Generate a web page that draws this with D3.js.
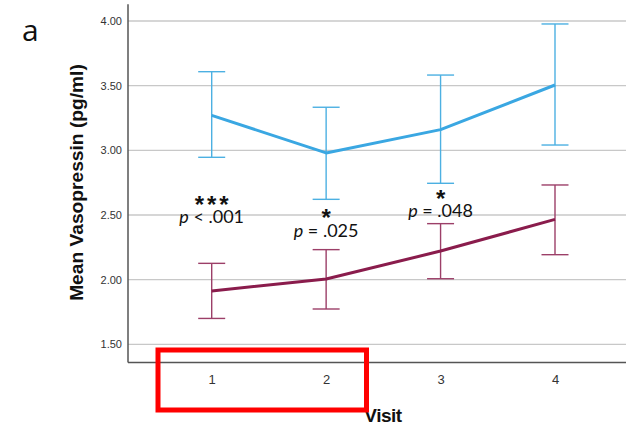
<!DOCTYPE html>
<html><head><meta charset="utf-8">
<script src="https://cdn.jsdelivr.net/npm/d3@7"></script>
<style>body{margin:0;background:#fff}svg{display:block}</style>
</head><body>
<svg id="c" width="626" height="425"></svg>
<script>
const visits = [1, 2, 3, 4];
const yTicks = [1.5, 2.0, 2.5, 3.0, 3.5, 4.0];
const blueMean = [3.27, 2.98, 3.16, 3.505];
const blueLow  = [2.946, 2.621, 2.745, 3.041];
const blueHigh = [3.608, 3.333, 3.582, 3.977];
const redMean = [1.912, 2.005, 2.221, 2.466];
const redLow  = [1.70, 1.773, 2.007, 2.193];
const redHigh = [2.126, 2.232, 2.433, 2.732];
const annVisits = [1, 2, 3];
const annStars = ["***", "*", "*"];
const annTexts = ["< .001", "= .025", "= .048"];

const svg = d3.select("#c");
const x = d3.scalePoint().domain(visits).range([211.7, 555]);
const y = d3.scaleLinear().domain([1.5, 4.0]).range([344.3, 21]);
const yTop = 4.13, yBot = 1.36;
const left = 128, right = 626;

// gridlines
svg.append("g").selectAll("line").data(yTicks).join("line")
  .attr("x1", left).attr("x2", right)
  .attr("y1", d => y(d)).attr("y2", d => y(d))
  .attr("stroke", "#c8c8c8").attr("stroke-width", 1.3);

// y axis
const yAxis = d3.axisLeft(y).tickValues(yTicks).tickFormat(d3.format(".2f")).tickSize(0).tickPadding(6);
const gy = svg.append("g").attr("transform", `translate(${left},0)`).call(yAxis);
gy.select(".domain").remove();
gy.selectAll("text").attr("font-family", "Liberation Sans, Arial, sans-serif").attr("font-size", 11).attr("fill", "#333");
svg.append("line").attr("x1", left).attr("x2", left).attr("y1", y(yTop)).attr("y2", y(yBot))
  .attr("stroke", "#555").attr("stroke-width", 1.5);

// x axis
const xAxis = d3.axisBottom(x).tickSize(0).tickPadding(12);
const gx = svg.append("g").attr("transform", `translate(0,${y(yBot)})`).call(xAxis);
gx.select(".domain").remove();
gx.selectAll("text").attr("font-family", "Liberation Sans, Arial, sans-serif").attr("font-size", 13).attr("fill", "#333");
svg.append("line").attr("x1", left).attr("x2", right).attr("y1", y(yBot)).attr("y2", y(yBot))
  .attr("stroke", "#555").attr("stroke-width", 1.5);

function series(mean, low, high, lineColor, barColor) {
  const g = svg.append("g");
  const cap = 13.5;
  visits.forEach((v, i) => {
    g.append("line").attr("x1", x(v)).attr("x2", x(v)).attr("y1", y(low[i])).attr("y2", y(high[i]))
      .attr("stroke", barColor).attr("stroke-width", 1.4);
    [low[i], high[i]].forEach(e => g.append("line").attr("x1", x(v) - cap).attr("x2", x(v) + cap)
      .attr("y1", y(e)).attr("y2", y(e)).attr("stroke", barColor).attr("stroke-width", 1.4));
  });
  g.append("path").datum(mean.map((m, i) => [visits[i], m]))
    .attr("d", d3.line().x(d => x(d[0])).y(d => y(d[1])))
    .attr("fill", "none").attr("stroke", lineColor).attr("stroke-width", 3).attr("stroke-linejoin", "round");
}
series(blueMean, blueLow, blueHigh, "#3aa7e2", "#4cb0e2");
series(redMean, redLow, redHigh, "#8a1c4c", "#9c3f68");

// annotations (baselines in pixels, layout only)
const starBase = [213, 226, 207];
const textBase = [223, 236.5, 216.5];
const ls = 3;
annVisits.forEach((v, i) => {
  svg.append("text").attr("x", x(v) + ls / 2).attr("y", starBase[i]).attr("text-anchor", "middle")
    .attr("font-family", "Liberation Sans, Arial, sans-serif").attr("font-size", 24).attr("font-weight", "bold")
    .attr("letter-spacing", ls).attr("fill", "#111")
    .text(annStars[i]);
  const t = svg.append("text").attr("x", x(v)).attr("y", textBase[i]).attr("text-anchor", "middle")
    .attr("font-family", "Lato, 'Open Sans', sans-serif").attr("font-size", 18).attr("fill", "#111");
  t.append("tspan").attr("font-style", "italic").text("p");
  t.append("tspan").text(" " + annTexts[i]);
});

// axis titles
svg.append("text").attr("transform", "translate(83,182.5) rotate(-90)").attr("text-anchor", "middle")
  .attr("font-family", "Liberation Sans, Arial, sans-serif").attr("font-weight", "bold").attr("font-size", 19.2).attr("fill", "#111")
  .text("Mean Vasopressin (pg/ml)");
svg.append("text").attr("x", 383).attr("y", 422).attr("text-anchor", "middle")
  .attr("font-family", "Liberation Sans, Arial, sans-serif").attr("font-weight", "bold").attr("font-size", 19).attr("fill", "#111")
  .attr("letter-spacing", -0.5)
  .text("Visit");

// panel letter
svg.append("text").attr("x", 22).attr("y", 41)
  .attr("font-family", "'Open Sans', Lato, sans-serif").attr("font-size", 30).attr("fill", "#111").text("a");

// red highlight box
svg.append("rect").attr("x", 158).attr("y", 350).attr("width", 208.5).attr("height", 60)
  .attr("fill", "none").attr("stroke", "#ff0000").attr("stroke-width", 5);
</script>
</body></html>
